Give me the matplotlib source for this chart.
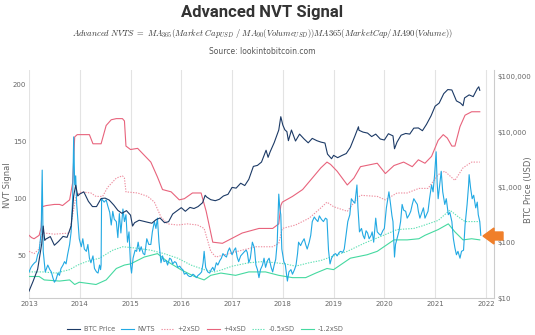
import numpy as np
import matplotlib
matplotlib.use("Agg")
import matplotlib.pyplot as plt
from matplotlib.patches import Polygon

# NVTS signal (decimal year, value)
nvts_dates = [
    2013.00, 2013.04, 2013.07, 2013.11, 2013.14, 2013.17, 2013.20, 2013.24, 2013.26, 2013.28,
    2013.32, 2013.37, 2013.41, 2013.44, 2013.47, 2013.50, 2013.53, 2013.57, 2013.60, 2013.63,
    2013.67, 2013.70, 2013.73, 2013.76, 2013.80, 2013.83, 2013.86, 2013.88, 2013.90, 2013.92,
    2013.94, 2013.96, 2013.99, 2014.03, 2014.06, 2014.09, 2014.13, 2014.16, 2014.19, 2014.22,
    2014.26, 2014.29, 2014.33, 2014.36, 2014.39, 2014.41, 2014.42, 2014.43, 2014.48, 2014.52,
    2014.55, 2014.59, 2014.62, 2014.65, 2014.68, 2014.72, 2014.75, 2014.78, 2014.81, 2014.85,
    2014.88, 2014.91, 2014.94, 2014.97, 2015.00, 2015.02, 2015.05, 2015.09, 2015.12, 2015.15,
    2015.18, 2015.21, 2015.25, 2015.28, 2015.32, 2015.36, 2015.40, 2015.43, 2015.47, 2015.50,
    2015.53, 2015.56, 2015.60, 2015.63, 2015.66, 2015.70, 2015.73, 2015.77, 2015.80, 2015.83,
    2015.87, 2015.90, 2015.93, 2015.97, 2016.00, 2016.03, 2016.06, 2016.10, 2016.13, 2016.16,
    2016.19, 2016.23, 2016.26, 2016.30, 2016.33, 2016.36, 2016.40, 2016.43, 2016.45, 2016.48,
    2016.52, 2016.56, 2016.59, 2016.62, 2016.65, 2016.69, 2016.72, 2016.76, 2016.79, 2016.82,
    2016.86, 2016.89, 2016.92, 2016.95, 2017.00, 2017.04, 2017.07, 2017.10, 2017.13, 2017.17,
    2017.21, 2017.25, 2017.28, 2017.30, 2017.33, 2017.36, 2017.40, 2017.44, 2017.47, 2017.50,
    2017.53, 2017.56, 2017.60, 2017.63, 2017.66, 2017.70, 2017.73, 2017.77, 2017.80, 2017.83,
    2017.86, 2017.89, 2017.92, 2017.94, 2017.96, 2017.98, 2018.02, 2018.05, 2018.09, 2018.12,
    2018.16, 2018.19, 2018.23, 2018.26, 2018.29, 2018.31, 2018.35, 2018.38, 2018.42, 2018.45,
    2018.48, 2018.52, 2018.55, 2018.58, 2018.62, 2018.65, 2018.69, 2018.72, 2018.76, 2018.80,
    2018.84, 2018.87, 2018.90, 2018.93, 2018.96, 2019.00, 2019.04, 2019.07, 2019.11, 2019.14,
    2019.18, 2019.21, 2019.25, 2019.28, 2019.32, 2019.35, 2019.38, 2019.42, 2019.44, 2019.46,
    2019.48, 2019.51, 2019.55, 2019.58, 2019.61, 2019.64, 2019.67, 2019.70, 2019.74, 2019.76,
    2019.79, 2019.83, 2019.86, 2019.90, 2019.93, 2019.97, 2020.00, 2020.04, 2020.09, 2020.12,
    2020.15, 2020.17, 2020.20, 2020.22, 2020.25, 2020.29, 2020.32, 2020.35, 2020.38, 2020.42,
    2020.45, 2020.49, 2020.52, 2020.55, 2020.58, 2020.62, 2020.65, 2020.67, 2020.70, 2020.74,
    2020.77, 2020.80, 2020.83, 2020.86, 2020.89, 2020.93, 2020.96, 2020.99, 2021.02, 2021.04,
    2021.06, 2021.09, 2021.12, 2021.15, 2021.19, 2021.22, 2021.26, 2021.29, 2021.33, 2021.36,
    2021.39, 2021.42, 2021.45, 2021.49, 2021.52, 2021.56, 2021.59, 2021.63, 2021.66, 2021.67,
    2021.70, 2021.73, 2021.76, 2021.80, 2021.83, 2021.85, 2021.88, 2021.90,
]
nvts_values = [
    36, 40, 42, 44, 45, 51, 54, 71, 125, 54,
    36, 42, 38, 36, 31, 27, 29, 35, 33, 39,
    42, 45, 43, 51, 60, 71, 100, 154, 112, 120,
    95, 83, 65, 58, 65, 56, 54, 60, 48, 44,
    50, 39, 36, 35, 42, 38, 42, 100, 97, 99,
    94, 88, 77, 89, 82, 80, 66, 87, 70, 91,
    80, 86, 62, 71, 42, 35, 48, 55, 54, 62,
    54, 58, 52, 51, 65, 60, 60, 71, 80, 74,
    83, 62, 44, 50, 45, 46, 42, 48, 47, 43,
    45, 44, 40, 41, 39, 38, 34, 35, 33, 32,
    32, 34, 33, 31, 33, 34, 36, 44, 54, 40,
    36, 35, 38, 40, 37, 44, 42, 46, 48, 52,
    50, 49, 54, 57, 51, 55, 57, 49, 45, 50,
    52, 54, 55, 53, 44, 48, 62, 57, 42, 38,
    31, 38, 42, 48, 40, 46, 48, 40, 36, 42,
    47, 62, 104, 92, 86, 56, 45, 42, 28, 36,
    38, 34, 38, 42, 52, 62, 59, 62, 65, 60,
    56, 62, 68, 80, 84, 82, 80, 85, 82, 80,
    83, 82, 55, 43, 48, 51, 52, 50, 53, 54,
    53, 56, 70, 80, 86, 100, 98, 96, 104, 112,
    92, 71, 74, 68, 65, 72, 70, 65, 68, 71,
    62, 83, 71, 69, 68, 72, 74, 92, 106, 96,
    85, 80, 49, 60, 65, 72, 80, 95, 90, 89,
    83, 86, 89, 95, 100, 97, 95, 89, 83, 88,
    92, 83, 86, 89, 100, 112, 106, 121, 141, 114,
    100, 112, 124, 106, 95, 100, 86, 88, 80, 65,
    57, 51, 54, 48, 54, 55, 77, 95, 112, 121,
    109, 100, 103, 92, 97, 86, 80, 68,
]

# +4xSD band
p4_dates = [2013.00, 2013.05, 2013.10, 2013.20, 2013.24, 2013.26, 2013.34, 2013.50, 2013.60, 2013.66,
            2013.80, 2013.86, 2013.90, 2013.95, 2014.19, 2014.26, 2014.42, 2014.52, 2014.62, 2014.72,
            2014.84, 2014.88, 2014.91, 2015.00, 2015.14, 2015.27, 2015.40, 2015.53, 2015.63, 2015.80,
            2015.96, 2016.06, 2016.22, 2016.39, 2016.49, 2016.62, 2016.81, 2016.94, 2017.20, 2017.53,
            2017.80, 2017.92, 2017.96, 2017.99, 2018.19, 2018.39, 2018.58, 2018.75, 2018.87, 2018.94,
            2019.07, 2019.27, 2019.40, 2019.53, 2019.86, 2020.02, 2020.19, 2020.38, 2020.55, 2020.67,
            2020.80, 2020.93, 2021.06, 2021.16, 2021.24, 2021.33, 2021.39, 2021.49, 2021.59, 2021.72,
            2021.88]
p4_values = [68, 66, 65, 68, 75, 93, 94, 95, 95, 94,
             99, 114, 154, 156, 156, 148, 148, 164, 169, 170,
             170, 168, 146, 143, 144, 138, 132, 119, 108, 106,
             99, 100, 105, 105, 89, 62, 61, 64, 70, 74,
             74, 78, 94, 97, 102, 108, 118, 127, 132, 130,
             124, 112, 118, 128, 131, 122, 129, 132, 128, 134,
             131, 137, 151, 156, 153, 146, 146, 163, 173, 176,
             176]

# +2xSD band
p2_dates = [2013.00, 2013.10, 2013.20, 2013.24, 2013.30, 2013.50, 2013.80, 2013.86, 2013.93, 2014.03,
            2014.22, 2014.32, 2014.45, 2014.55, 2014.72, 2014.84, 2014.88, 2014.91, 2015.14, 2015.34,
            2015.47, 2015.60, 2015.73, 2015.93, 2016.12, 2016.32, 2016.45, 2016.58, 2016.68, 2016.94,
            2017.20, 2017.47, 2017.80, 2017.92, 2017.99, 2018.25, 2018.52, 2018.75, 2018.87, 2019.00,
            2019.27, 2019.46, 2019.53, 2019.86, 2020.02, 2020.25, 2020.45, 2020.68, 2020.86, 2021.06,
            2021.19, 2021.39, 2021.55, 2021.72, 2021.88]
p2_values = [54, 52, 56, 68, 70, 69, 70, 86, 103, 106,
             105, 102, 102, 110, 118, 120, 118, 106, 105, 102,
             97, 84, 78, 77, 78, 77, 74, 54, 49, 52,
             55, 58, 58, 61, 74, 77, 83, 92, 97, 93,
             89, 100, 103, 102, 99, 105, 105, 109, 109, 121,
             124, 116, 127, 132, 132]

# -0.5xSD band
m05_dates = [2013.00, 2013.27, 2013.53, 2013.80, 2013.96, 2014.13, 2014.39, 2014.65, 2014.85, 2015.07,
             2015.40, 2015.66, 2015.93, 2016.19, 2016.45, 2016.65, 2016.81, 2017.00, 2017.33, 2017.60,
             2017.86, 2018.05, 2018.25, 2018.52, 2018.75, 2018.94, 2019.27, 2019.60, 2019.93, 2020.25,
             2020.58, 2020.73, 2021.06, 2021.29, 2021.46, 2021.59, 2021.72, 2021.88]
m05_values = [36, 36, 35, 38, 42, 45, 48, 55, 58, 57,
              55, 52, 48, 42, 38, 36, 38, 41, 44, 45,
              44, 43, 41, 44, 46, 49, 54, 61, 67, 73,
              74, 76, 81, 90, 84, 80, 80, 80]

# -1.2xSD band
m12_dates = [2013.00, 2013.20, 2013.30, 2013.60, 2013.80, 2013.90, 2013.99, 2014.32, 2014.52, 2014.72,
             2014.88, 2015.00, 2015.27, 2015.53, 2015.73, 2015.99, 2016.26, 2016.45, 2016.58, 2016.78,
             2017.07, 2017.33, 2017.66, 2017.92, 2018.19, 2018.45, 2018.65, 2018.87, 2019.00, 2019.33,
             2019.66, 2019.86, 2020.19, 2020.45, 2020.68, 2020.80, 2021.06, 2021.26, 2021.39, 2021.55,
             2021.72, 2021.88]
m12_values = [32, 32, 29, 28, 29, 25, 27, 25, 29, 39,
              42, 43, 49, 52, 45, 38, 32, 29, 33, 35,
              33, 36, 36, 33, 31, 31, 35, 39, 38, 48,
              51, 54, 64, 64, 65, 68, 73, 78, 71, 64,
              65, 64]

# BTC price (USD), right log axis
btc_dates = [
    2013.00, 2013.08, 2013.17, 2013.25, 2013.28, 2013.31, 2013.33, 2013.42, 2013.50, 2013.58,
    2013.67, 2013.75, 2013.83, 2013.88, 2013.92, 2013.96, 2014.00, 2014.08, 2014.17, 2014.25,
    2014.33, 2014.42, 2014.50, 2014.58, 2014.67, 2014.75, 2014.83, 2014.92, 2015.00, 2015.04,
    2015.08, 2015.17, 2015.25, 2015.33, 2015.42, 2015.50, 2015.58, 2015.67, 2015.75, 2015.83,
    2015.92, 2016.00, 2016.08, 2016.17, 2016.25, 2016.33, 2016.42, 2016.47, 2016.50, 2016.58,
    2016.67, 2016.75, 2016.83, 2016.92, 2017.00, 2017.08, 2017.17, 2017.25, 2017.33, 2017.42,
    2017.50, 2017.58, 2017.67, 2017.71, 2017.75, 2017.83, 2017.92, 2017.96, 2018.00, 2018.04,
    2018.08, 2018.11, 2018.17, 2018.25, 2018.33, 2018.42, 2018.50, 2018.58, 2018.67, 2018.75,
    2018.83, 2018.88, 2018.96, 2019.00, 2019.08, 2019.17, 2019.25, 2019.33, 2019.42, 2019.49,
    2019.50, 2019.58, 2019.67, 2019.75, 2019.83, 2019.92, 2020.00, 2020.08, 2020.17, 2020.20,
    2020.25, 2020.33, 2020.42, 2020.50, 2020.58, 2020.67, 2020.75, 2020.83, 2020.92, 2021.00,
    2021.08, 2021.17, 2021.25, 2021.33, 2021.42, 2021.50, 2021.55, 2021.58, 2021.67, 2021.75,
    2021.83, 2021.86, 2021.88,
]
btc_values = [
    13.3, 20, 33, 95, 200, 110, 116, 129, 90, 105,
    130, 125, 200, 700, 1100, 700, 760, 830, 560, 450,
    450, 630, 640, 590, 480, 385, 340, 380, 315, 200,
    230, 255, 245, 235, 225, 260, 280, 230, 240, 330,
    380, 430, 370, 435, 415, 450, 530, 720, 670, 600,
    575, 610, 700, 750, 1000, 970, 1190, 1080, 1400, 2400,
    2500, 2870, 4700, 3500, 4400, 6450, 10900, 19000, 13400, 11000,
    10200, 7000, 10900, 6900, 9200, 7500, 6400, 7700, 7000, 6600,
    6350, 4000, 3300, 3800, 3450, 3800, 4100, 5300, 8500, 12500,
    10800, 10000, 9600, 8300, 9200, 7500, 7200, 9350, 8550, 5000,
    6600, 8800, 9450, 9200, 11800, 11900, 10600, 13800, 19700, 29400,
    33500, 49600, 58800, 57800, 36700, 33500, 30000, 41500, 47100, 43800,
    61000, 66000, 57000,
]

year_ticks = list(range(2013, 2023))
price_ticks = [10, 100, 1000, 10000, 100000]
price_labels = ["$10", "$100", "$1,000", "$10,000", "$100,000"]

GRAY = "#666666"

plt.rcParams["mathtext.fontset"] = "cm"
fig = plt.figure(figsize=(5.35, 3.35), dpi=100)
W, H = 535, 335
ax = fig.add_axes([29 / W, 1 - 298 / H, (494 - 29) / W, (298 - 70) / H])

for y in year_ticks:
    ax.axvline(y, color="#e3e3e3", lw=0.8, zorder=0)

l_p2, = ax.plot(p2_dates, p2_values, color="#ee8fa0", lw=0.8, ls=(0, (1.2, 1.2)), label="+2xSD")
l_p4, = ax.plot(p4_dates, p4_values, color="#e8637c", lw=0.8, label="+4xSD")
l_m05, = ax.plot(m05_dates, m05_values, color="#5fe0b4", lw=0.8, ls=(0, (1.2, 1.2)), label="-0.5xSD")
l_m12, = ax.plot(m12_dates, m12_values, color="#45d9a0", lw=0.8, label="-1.2xSD")
l_nvts, = ax.plot(nvts_dates, nvts_values, color="#22a9e3", lw=0.8, label="NVTS")

ax.set_xlim(2013.0, 2022.16)
ax.set_ylim(13.2, 212.5)
ax.set_xticks(year_ticks)
ax.set_yticks([50, 100, 150, 200])
ax.tick_params(axis="both", length=0, labelsize=5, labelcolor=GRAY, pad=2)
for s in ["top", "left", "right"]:
    ax.spines[s].set_visible(False)
ax.spines["bottom"].set_color("#cccccc")

ax2 = ax.twinx()
l_btc, = ax2.plot(btc_dates, btc_values, color="#1c3a66", lw=0.8, label="BTC Price")
ax2.set_yscale("log")
ax2.set_ylim(10, 132800)
ax2.set_yticks(price_ticks)
ax2.set_yticklabels(price_labels)
ax2.minorticks_off()
ax2.tick_params(axis="y", length=0, labelsize=5, labelcolor=GRAY, pad=2.5)
for s in ["top", "left", "bottom"]:
    ax2.spines[s].set_visible(False)
ax2.spines["right"].set_color("#cccccc")

fig.text(8 / W, 1 - 185 / H, "NVT Signal", rotation=90, ha="center", va="center",
         fontsize=6, color=GRAY)
fig.text(528 / W, 1 - 190 / H, "BTC Price (USD)", rotation=90, ha="center", va="center",
         fontsize=6, color=GRAY)

# orange arrow pointing at the latest reading
arrow_px = [(483, 236), (494, 228), (494, 232), (503, 232), (503, 240), (494, 240), (494, 244)]
arrow = Polygon([(x / W, 1 - y / H) for x, y in arrow_px], closed=True,
                transform=fig.transFigure, color="#f07f2a", zorder=10)
fig.patches.append(arrow)

fig.text(0.49, 1 - 12 / H, "Advanced NVT Signal", ha="center", va="center",
         fontsize=12, fontweight="bold", family="Roboto", color="#333333")
fig.text(0.49, 1 - 33 / H,
         r"$Advanced\ NVTS\ =\ MA_{365}(Market\ Cap_{USD}\ /\ MA_{90}(Volume_{USD}))MA365(MarketCap/MA90(Volume))$",
         ha="center", va="center", fontsize=6.1, color="#333333")
fig.text(0.49, 1 - 52 / H, "Source: lookintobitcoin.com", ha="center", va="center",
         fontsize=5.5, color="#555555")

handles = [l_btc, l_nvts, l_p2, l_p4, l_m05, l_m12]
fig.legend(handles, [h.get_label() for h in handles], loc="center", bbox_to_anchor=(205 / W, 1 - 329 / H),
           ncol=6, frameon=False, fontsize=4.8, handlelength=2.0, columnspacing=0.9,
           handletextpad=0.5, labelcolor=GRAY)

fig.savefig("out.png", dpi=100)
